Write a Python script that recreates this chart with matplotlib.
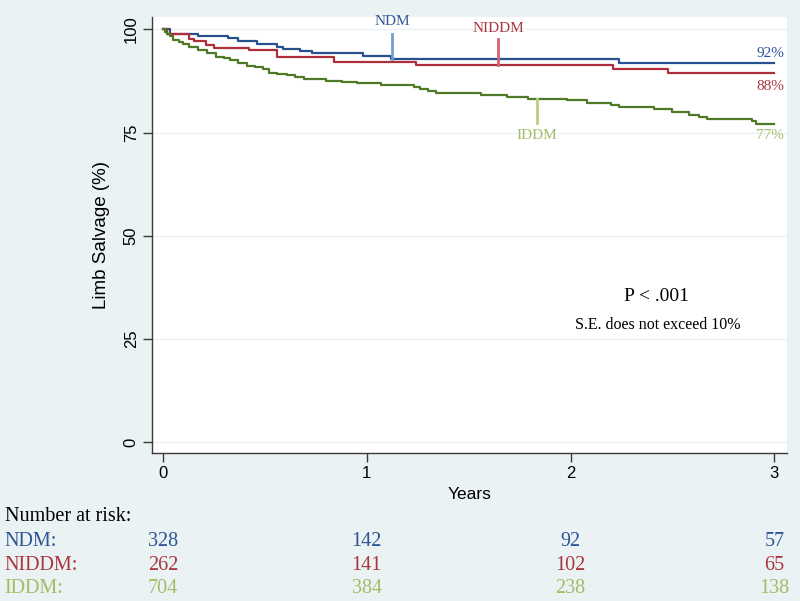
import matplotlib
matplotlib.use("Agg")
import matplotlib.pyplot as plt
import matplotlib.transforms as mtransforms

# Kaplan-Meier estimates (years, % limb salvage)
ndm_t = [0, 0.035, 0.17, 0.32, 0.37, 0.46, 0.56, 0.59, 0.67, 0.73, 0.98, 1.12, 2.24, 3.0]
ndm_s = [100, 98.8, 98.3, 97.8, 97.3, 96.5, 95.8, 95.2, 94.7, 94.2, 93.6, 92.9, 91.8, 91.8]

niddm_t = [0, 0.02, 0.13, 0.15, 0.21, 0.25, 0.42, 0.56, 0.84, 1.24, 2.21, 2.48, 3.0]
niddm_s = [100, 98.9, 97.6, 97.1, 96.2, 95.5, 95.0, 93.4, 92.1, 91.4, 90.3, 89.4, 89.4]

iddm_t = [0, 0.01, 0.02, 0.034, 0.05, 0.08, 0.10, 0.13, 0.17, 0.215, 0.26, 0.30, 0.33,
          0.37, 0.41, 0.45, 0.49, 0.52, 0.56, 0.61, 0.65, 0.69, 0.80, 0.88, 0.95, 1.07,
          1.23, 1.26, 1.30, 1.34, 1.56, 1.69, 1.79, 1.98, 2.08, 2.20, 2.24, 2.41, 2.50,
          2.58, 2.63, 2.67, 2.89, 2.91, 3.0]
iddm_s = [100, 99.4, 98.9, 98.3, 97.5, 96.9, 96.4, 95.8, 95.1, 94.4, 93.4, 93.0, 92.6,
          91.9, 91.2, 90.8, 90.4, 89.5, 89.2, 88.9, 88.4, 87.9, 87.6, 87.3, 87.0, 86.5,
          86.0, 85.5, 85.0, 84.5, 84.1, 83.7, 83.2, 82.8, 82.1, 81.6, 81.2, 80.8, 80.0,
          79.2, 78.7, 78.4, 77.8, 77.1, 77.1]

groups = ["NDM", "NIDDM", "IDDM"]
end_labels = ["92%", "88%", "77%"]
risk_years = [0, 1, 2, 3]
risk_ndm = [328, 142, 92, 57]
risk_niddm = [262, 141, 102, 65]
risk_iddm = [704, 384, 238, 138]

y_ticks = [0, 25, 50, 75, 100]
x_ticks = [0, 1, 2, 3]

bg = "#EAF2F3"
line_cols = ["#27508F", "#AE2F3A", "#4E7A27"]
text_cols = ["#2D5596", "#A8363E", "#A3BC66"]
mark_cols = ["#6E9FD3", "#D5646E", "#BACD88"]
serif = ["Liberation Serif", "DejaVu Serif"]
sans = ["Liberation Sans", "DejaVu Sans"]

fig = plt.figure(figsize=(8, 6.01), dpi=100, facecolor=bg)
ax = fig.add_axes([0.19, 0.2463, 0.794, 0.7254])
ax.set_facecolor("white")

for y in y_ticks:
    ax.axhline(y, color=bg, lw=1.0, zorder=0)

for t, s, c in zip([ndm_t, niddm_t, iddm_t], [ndm_s, niddm_s, iddm_s], line_cols):
    ax.step(t, s, where="post", color=c, lw=1.6, zorder=3)

# curve labels with pointer lines
ax.plot([1.125, 1.125], [98.9, 92.9], color=mark_cols[0], lw=2, zorder=4)
ax.text(1.125, 101.8, groups[0], color=text_cols[0], fontsize=11, family=serif,
        ha="center", va="center")
ax.plot([1.645, 1.645], [97.6, 91.4], color=mark_cols[1], lw=2, zorder=4)
ax.text(1.645, 100.1, groups[1], color=text_cols[1], fontsize=11, family=serif,
        ha="center", va="center")
ax.plot([1.834, 1.834], [83.2, 77.3], color=mark_cols[2], lw=2, zorder=4)
ax.text(1.834, 74.2, groups[2], color=text_cols[2], fontsize=11, family=serif,
        ha="center", va="center")

for lab, y, c in zip(end_labels, [94.1, 86.1, 74.2], text_cols):
    ax.text(3.049, y, lab, color=c, fontsize=11, family=serif, ha="right", va="center")

ax.text(2.42, 35.3, "P < .001", fontsize=14, family=serif, ha="center", va="center")
ax.text(2.43, 28.5, "S.E. does not exceed 10%", fontsize=11.5, family=serif,
        ha="center", va="center")

ax.set_xlim(-0.054, 3.063)
ax.set_ylim(-2.6, 103.0)
ax.set_xticks(x_ticks)
ax.set_yticks(y_ticks)
for side in ["top", "right"]:
    ax.spines[side].set_visible(False)
for side in ["left", "bottom"]:
    ax.spines[side].set_color("#3A3A3A")
    ax.spines[side].set_linewidth(1.0)
ax.tick_params(length=6.5, width=1.0, color="#3A3A3A", labelsize=12, pad=3)
for lab in ax.get_yticklabels():
    lab.set_rotation(90)
    lab.set_va("center")
    lab.set_family(sans)
for lab in ax.get_xticklabels():
    lab.set_family(sans)

ax.set_xlabel("Years", fontsize=12.5, family=sans, labelpad=4)
ax.set_ylabel("Limb Salvage (%)", fontsize=13.5, family=sans, labelpad=10)

# number-at-risk table under the axis
tr = mtransforms.blended_transform_factory(ax.transData, fig.transFigure)
fig.text(0.006, 0.1398, "Number at risk:", fontsize=14.5, family=serif, va="center")
row_y = [0.0998, 0.0599, 0.020]
for name, counts, y, c in zip(groups, [risk_ndm, risk_niddm, risk_iddm], row_y, text_cols):
    fig.text(0.006, y, name + ":", fontsize=14.5, family=serif, color=c, va="center")
    for yr, n in zip(risk_years, counts):
        ax.text(yr, y, str(n), transform=tr, fontsize=14.5, family=serif, color=c,
                ha="center", va="center", clip_on=False)

fig.savefig("out.png", dpi=100, facecolor=bg)
